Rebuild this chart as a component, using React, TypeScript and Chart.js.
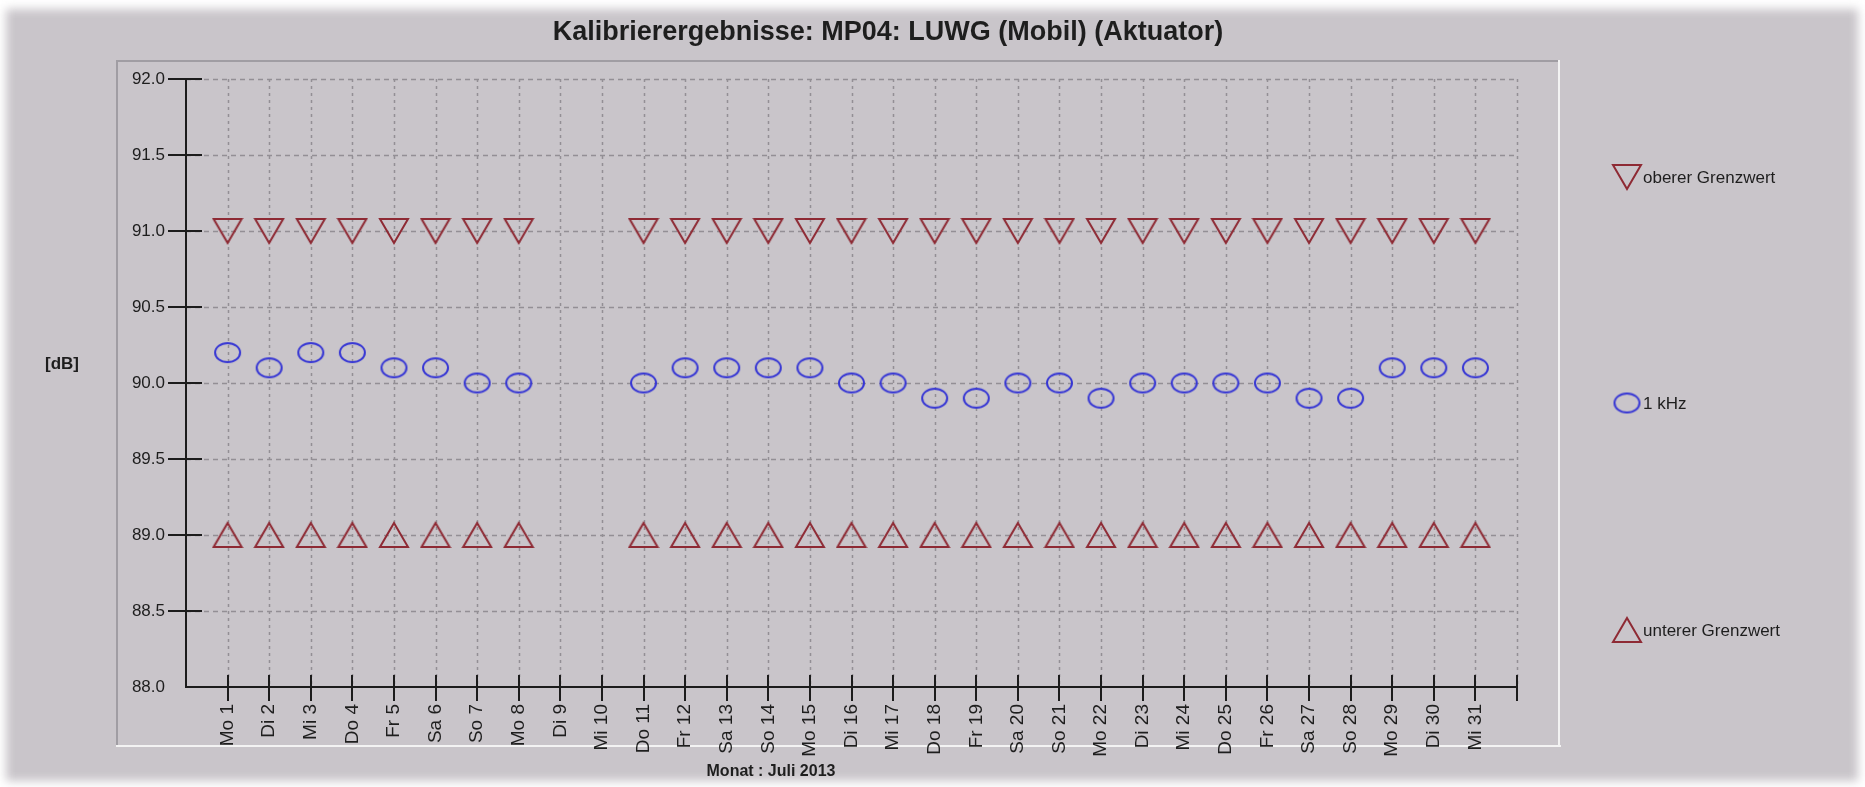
import React, { useEffect, useRef } from 'react';
import { Chart, registerables } from 'chart.js';

Chart.register(...registerables);

// ---------- data ----------
const categories = [
  'Mo 1', 'Di 2', 'Mi 3', 'Do 4', 'Fr 5', 'Sa 6', 'So 7', 'Mo 8', 'Di 9', 'Mi 10',
  'Do 11', 'Fr 12', 'Sa 13', 'So 14', 'Mo 15', 'Di 16', 'Mi 17', 'Do 18', 'Fr 19', 'Sa 20',
  'So 21', 'Mo 22', 'Di 23', 'Mi 24', 'Do 25', 'Fr 26', 'Sa 27', 'So 28', 'Mo 29', 'Di 30', 'Mi 31',
];

const obererGrenzwert: (number | null)[] = [
  91.0, 91.0, 91.0, 91.0, 91.0, 91.0, 91.0, 91.0, null, null,
  91.0, 91.0, 91.0, 91.0, 91.0, 91.0, 91.0, 91.0, 91.0, 91.0,
  91.0, 91.0, 91.0, 91.0, 91.0, 91.0, 91.0, 91.0, 91.0, 91.0, 91.0,
];

const kHz1: (number | null)[] = [
  90.2, 90.1, 90.2, 90.2, 90.1, 90.1, 90.0, 90.0, null, null,
  90.0, 90.1, 90.1, 90.1, 90.1, 90.0, 90.0, 89.9, 89.9, 90.0,
  90.0, 89.9, 90.0, 90.0, 90.0, 90.0, 89.9, 89.9, 90.1, 90.1, 90.1,
];

const untererGrenzwert: (number | null)[] = [
  89.0, 89.0, 89.0, 89.0, 89.0, 89.0, 89.0, 89.0, null, null,
  89.0, 89.0, 89.0, 89.0, 89.0, 89.0, 89.0, 89.0, 89.0, 89.0,
  89.0, 89.0, 89.0, 89.0, 89.0, 89.0, 89.0, 89.0, 89.0, 89.0, 89.0,
];

const yTicks = [88.0, 88.5, 89.0, 89.5, 90.0, 90.5, 91.0, 91.5, 92.0];

const seriesNames = ['oberer Grenzwert', '1 kHz', 'unterer Grenzwert'];
const titleText = 'Kalibrierergebnisse: MP04: LUWG (Mobil) (Aktuator)';
const yAxisTitle = '[dB]';
const xAxisTitle = 'Monat : Juli 2013';

// ---------- styles ----------
const W = 1865;
const H = 787;
const FONT = '"Liberation Sans", Arial, sans-serif';
const BG = '#c9c5ca';
const RED = '#8e2a34';
const BLUE = '#3636d4';
const GRID = '#938f95';
const AXIS = '#1c1c1c';
const TEXT = '#1e1e1e';

function makeTriangle(down: boolean): HTMLCanvasElement {
  const c = document.createElement('canvas');
  c.width = 32;
  c.height = 28;
  const g = c.getContext('2d')!;
  g.strokeStyle = RED;
  g.lineWidth = 2;
  g.beginPath();
  if (down) {
    g.moveTo(2, 2);
    g.lineTo(30, 2);
    g.lineTo(16, 26);
  } else {
    g.moveTo(16, 2);
    g.lineTo(30, 26);
    g.lineTo(2, 26);
  }
  g.closePath();
  g.stroke();
  return c;
}

function makeEllipse(): HTMLCanvasElement {
  const c = document.createElement('canvas');
  c.width = 31;
  c.height = 25;
  const g = c.getContext('2d')!;
  g.strokeStyle = BLUE;
  g.lineWidth = 2;
  g.beginPath();
  g.ellipse(15.5, 12.5, 12.5, 9.5, 0, 0, Math.PI * 2);
  g.stroke();
  return c;
}

export default function App() {
  const ref = useRef<HTMLCanvasElement | null>(null);

  useEffect(() => {
    if (!ref.current) return;
    const downTri = makeTriangle(true);
    const upTri = makeTriangle(false);
    const ell = makeEllipse();
    const markers = [downTri, ell, upTri];

    const toPoints = (arr: (number | null)[]) =>
      categories.map((_, i) => ({ x: i + 1, y: arr[i] }));

    const xTickValues = [...categories.map((_, i) => i + 1), categories.length + 1];

    const deco = {
      id: 'deco',
      beforeDraw(chart: any) {
        const ctx = chart.ctx as CanvasRenderingContext2D;
        ctx.save();
        ctx.fillStyle = '#ffffff';
        ctx.fillRect(0, 0, W, H);
        ctx.filter = 'blur(5px)';
        ctx.fillStyle = BG;
        ctx.fillRect(6, 9, 1852, 772);
        ctx.filter = 'none';
        // inner panel bevel
        ctx.fillStyle = '#a09da3';
        ctx.fillRect(116, 60, 1444, 2);
        ctx.fillRect(116, 60, 2, 686);
        ctx.fillStyle = '#f3f3f3';
        ctx.fillRect(116, 745, 1445, 2);
        ctx.fillRect(1558, 60, 2, 687);
        ctx.restore();
      },
      beforeDatasetsDraw(chart: any) {
        const ctx = chart.ctx as CanvasRenderingContext2D;
        const a = chart.chartArea;
        const xs = chart.scales.x;
        const ys = chart.scales.y;
        ctx.save();
        ctx.strokeStyle = GRID;
        ctx.lineWidth = 1.5;
        ctx.setLineDash([5, 4]);
        for (const v of yTicks) {
          if (v === ys.min) continue;
          const y = Math.round(ys.getPixelForValue(v)) + 0.5;
          ctx.beginPath();
          ctx.moveTo(a.left, y);
          ctx.lineTo(a.right, y);
          ctx.stroke();
        }
        ctx.setLineDash([3, 4]);
        for (const v of xTickValues) {
          const x = Math.round(xs.getPixelForValue(v)) + 0.5;
          ctx.beginPath();
          ctx.moveTo(x, a.top);
          ctx.lineTo(x, a.bottom);
          ctx.stroke();
        }
        ctx.restore();
      },
      afterDatasetsDraw(chart: any) {
        const ctx = chart.ctx as CanvasRenderingContext2D;
        const a = chart.chartArea;
        const xs = chart.scales.x;
        const ys = chart.scales.y;
        ctx.save();
        ctx.strokeStyle = AXIS;
        ctx.lineWidth = 2;
        ctx.beginPath();
        ctx.moveTo(a.left, a.top);
        ctx.lineTo(a.left, a.bottom);
        ctx.lineTo(a.right, a.bottom);
        ctx.stroke();
        for (const v of yTicks) {
          if (v === ys.min) continue;
          const y = Math.round(ys.getPixelForValue(v));
          ctx.beginPath();
          ctx.moveTo(a.left - 18, y);
          ctx.lineTo(a.left + 16, y);
          ctx.stroke();
        }
        for (const v of xTickValues) {
          const x = Math.round(xs.getPixelForValue(v));
          ctx.beginPath();
          ctx.moveTo(x, a.bottom - 12);
          ctx.lineTo(x, a.bottom + 14);
          ctx.stroke();
        }
        ctx.restore();
      },
      afterDraw(chart: any) {
        const ctx = chart.ctx as CanvasRenderingContext2D;
        ctx.save();
        ctx.fillStyle = TEXT;
        // title
        ctx.font = `bold 27px ${FONT}`;
        ctx.textAlign = 'center';
        ctx.textBaseline = 'alphabetic';
        ctx.fillText(titleText, 888, 40);
        // y title
        ctx.font = `bold 17px ${FONT}`;
        ctx.fillText(yAxisTitle, 62, 369);
        // x title
        ctx.font = `bold 16px ${FONT}`;
        ctx.fillText(xAxisTitle, 771, 776);
        // legend
        const legendY = [177, 403, 630];
        ctx.font = `17px ${FONT}`;
        ctx.textAlign = 'left';
        ctx.textBaseline = 'middle';
        seriesNames.forEach((name, i) => {
          const m = markers[i];
          ctx.drawImage(m, 1627 - m.width / 2, legendY[i] - m.height / 2);
          ctx.fillText(name, 1643, legendY[i] + 1);
        });
        ctx.restore();
      },
    };

    const chart = new Chart(ref.current, {
      type: 'line',
      data: {
        datasets: [
          { label: seriesNames[0], data: toPoints(obererGrenzwert), showLine: false, pointStyle: downTri as any, pointRadius: 14 },
          { label: seriesNames[1], data: toPoints(kHz1), showLine: false, pointStyle: ell as any, pointRadius: 14 },
          { label: seriesNames[2], data: toPoints(untererGrenzwert), showLine: false, pointStyle: upTri as any, pointRadius: 14 },
        ],
      },
      options: {
        responsive: false,
        animation: false,
        events: [],
        layout: { padding: { left: 0, top: 79, right: W - 1517, bottom: 0 } },
        plugins: {
          legend: { display: false },
          tooltip: { enabled: false },
          title: { display: false },
        },
        scales: {
          x: {
            type: 'linear',
            min: 0,
            max: categories.length + 1,
            afterBuildTicks: (s: any) => {
              s.ticks = xTickValues.map((v) => ({ value: v }));
            },
            afterFit: (s: any) => {
              s.height = 100;
            },
            grid: { display: true, color: 'rgba(0,0,0,0)', drawTicks: false, tickLength: 0 },
            border: { display: false },
            ticks: {
              autoSkip: false,
              minRotation: 90,
              maxRotation: 90,
              padding: 17,
              color: TEXT,
              font: { family: FONT, size: 19 },
              callback: (v: any) => categories[Number(v) - 1] ?? '',
            },
          },
          y: {
            type: 'linear',
            min: yTicks[0],
            max: yTicks[yTicks.length - 1],
            afterBuildTicks: (s: any) => {
              s.ticks = yTicks.map((v) => ({ value: v }));
            },
            afterFit: (s: any) => {
              s.width = 186;
            },
            grid: { display: true, color: 'rgba(0,0,0,0)', drawTicks: false, tickLength: 0 },
            border: { display: false },
            ticks: {
              autoSkip: false,
              padding: 21,
              color: TEXT,
              font: { family: FONT, size: 17 },
              callback: (v: any) => Number(v).toFixed(1),
            },
          },
        },
      },
      plugins: [deco],
    } as any);

    return () => chart.destroy();
  }, []);

  return (
    <div style={{ position: 'absolute', left: 0, top: 0, width: W, height: H }}>
      <canvas ref={ref} width={W} height={H} style={{ display: 'block' }} />
    </div>
  );
}
